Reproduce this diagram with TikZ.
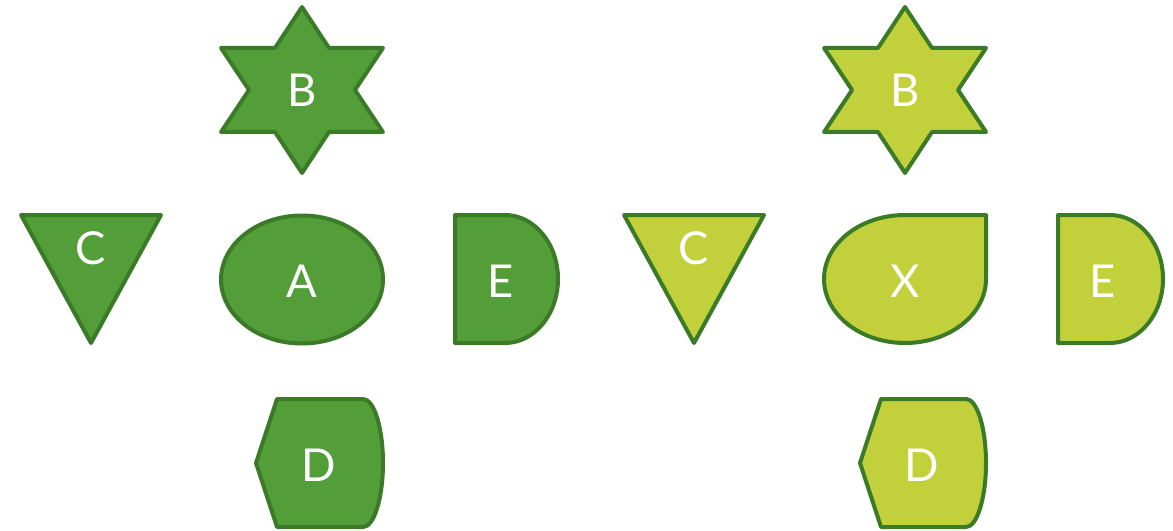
\documentclass[tikz,border=0pt]{standalone}
\usepackage{fontspec}
\setmainfont{Lato}
\definecolor{gfill}{RGB}{83,158,57}
\definecolor{lfill}{RGB}{193,208,59}
\definecolor{gline}{RGB}{59,122,39}
\begin{document}
\begin{tikzpicture}[x=0.75pt,y=-0.75pt,
  shp/.style={draw=gline,line width=3pt,line join=round},
  dk/.style={shp,fill=gfill},
  lt/.style={shp,fill=lfill},
  lbl/.style={text=white,anchor=base,inner sep=0pt,font=\fontsize{34}{40}\selectfont}]
\useasboundingbox (0,0) rectangle (1173,531);
% ---------- left group ----------
% star B
\draw[dk] (302,7) -- (329,48) -- (383,48) -- (355,90) -- (383,132) -- (329,132) -- (302,173)
  -- (275,132) -- (221,132) -- (249,90) -- (221,48) -- (275,48) -- cycle;
% triangle C
\draw[dk] (21,215) -- (161,215) -- (91,343) -- cycle;
% ellipse A
\draw[dk] (302,279.5) ellipse [x radius=81, y radius=64];
% E
\draw[dk] (455,215) -- (505,215) .. controls (534.3,215) and (558,243.7) .. (558,279)
  .. controls (558,314.3) and (534.3,343) .. (505,343) -- (455,343) -- cycle;
% D
\draw[dk] (256,463) -- (277,399) -- (363,399) .. controls (374,399) and (383,427.7) .. (383,463)
  .. controls (383,498.3) and (374,527) .. (363,527) -- (277,527) -- cycle;
\node[lbl] (b1) at (302,107) {B};
\node[lbl] (c1) at (91,264) {C};
\node[lbl] (a1) at (302,297) {A};
\node[lbl] (e1) at (501,297) {E};
\node[lbl] (d1) at (319,481) {D};
% ---------- right group ----------
\draw[lt] (905,7) -- (932,48) -- (986,48) -- (958,90) -- (986,132) -- (932,132) -- (905,173)
  -- (878,132) -- (824,132) -- (852,90) -- (824,48) -- (878,48) -- cycle;
\draw[lt] (624,215) -- (764,215) -- (694,343) -- cycle;
\draw[lt] (905,215) -- (986,215) -- (986,279) .. controls (986,314.3) and (949.7,343) .. (905,343)
  .. controls (860.3,343) and (824,314.3) .. (824,279) .. controls (824,243.7) and (860.3,215) .. (905,215) -- cycle;
\draw[lt] (1058,215) -- (1110,215) .. controls (1139.3,215) and (1163,243.7) .. (1163,279)
  .. controls (1163,314.3) and (1139.3,343) .. (1110,343) -- (1058,343) -- cycle;
\draw[lt] (860,463) -- (881,399) -- (966,399) .. controls (977,399) and (986,427.7) .. (986,463)
  .. controls (986,498.3) and (977,527) .. (966,527) -- (881,527) -- cycle;
\node[lbl] (b2) at (905,107) {B};
\node[lbl] (c2) at (694,264) {C};
\node[lbl] (x2) at (905,297) {X};
\node[lbl] (e2) at (1103,297) {E};
\node[lbl] (d2) at (922,481) {D};
\end{tikzpicture}
\end{document}
